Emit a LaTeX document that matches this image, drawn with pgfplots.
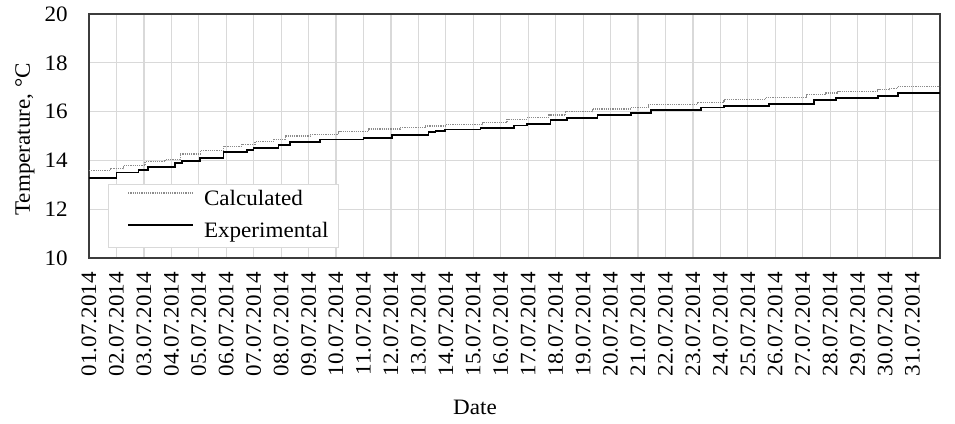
\documentclass[border=0pt]{standalone}
\usepackage{fontspec}
\setmainfont{Liberation Serif}[FakeStretch=1.05]
\usepackage{pgfplots}
\pgfplotsset{compat=1.18}
\definecolor{gridgray}{RGB}{217,217,217}
\definecolor{calcgray}{RGB}{140,140,140}
\definecolor{axisdark}{RGB}{60,60,60}
\begin{document}
\begin{tikzpicture}[x=1pt,y=1pt]
\useasboundingbox (0,0) rectangle (955,423);
\begin{axis}[
  at={(89pt,165pt)}, anchor=south west,
  scale only axis, width=851pt, height=244pt,
  xmin=0, xmax=31, ymin=10, ymax=20,
  xtick={0,...,30},
  xticklabels={01.07.2014,02.07.2014,03.07.2014,04.07.2014,05.07.2014,06.07.2014,07.07.2014,08.07.2014,09.07.2014,10.07.2014,11.07.2014,12.07.2014,13.07.2014,14.07.2014,15.07.2014,16.07.2014,17.07.2014,18.07.2014,19.07.2014,20.07.2014,21.07.2014,22.07.2014,23.07.2014,24.07.2014,25.07.2014,26.07.2014,27.07.2014,28.07.2014,29.07.2014,30.07.2014,31.07.2014},
  ytick={10,12,...,20},
  /pgf/number format/assume math mode=true,
  grid=major, major grid style={draw=gridgray, line width=1.2pt},
  axis line style={draw=axisdark, line width=1.8pt},
  major tick length=0pt, tick style={draw=none},
  font=\fontsize{22}{26}\selectfont,
  ticklabel style={font=\fontsize{22}{26}\selectfont},
  xticklabel style={yshift=-14pt, rotate=90, anchor=east, inner sep=0pt},
  yticklabel style={anchor=east, inner sep=0pt, xshift=-21pt},
  xlabel={Date},
  xlabel style={at={(axis description cs:0.4536,-0.6107)}, anchor=center},
  ylabel={Temperature, °C},
  ylabel style={at={(axis description cs:-0.0752,0.486)}, anchor=center},
  legend cell align=left,
  legend image code/.code={\path (0pt,0pt); \draw[#1] (9pt,7pt) -- (74pt,7pt);},
  legend style={at={(axis description cs:0.022,0.041)}, anchor=south west,
    draw=gridgray, line width=1pt, fill=white,
    inner xsep=10pt, inner ysep=5pt, row sep=11pt,
    font=\fontsize{22}{26}\selectfont,
    nodes={inner sep=0pt, text height=16pt, text depth=5pt},
    /tikz/every odd column/.append style={column sep=10pt}},
]
\addplot[const plot, draw=calcgray, line width=1.2pt, densely dotted] coordinates {
(0,13.58) (0.77,13.66) (1.25,13.78) (2.04,13.95) (2.77,14.04) (3.32,14.26)
(4.05,14.40) (4.90,14.58) (5.57,14.66) (6.05,14.77) (6.72,14.86) (7.15,15.00)
(8.06,15.07) (9.09,15.18) (10.19,15.29) (11.34,15.35) (12.25,15.41) (12.98,15.46)
(14.32,15.54) (15.23,15.69) (15.96,15.76) (16.75,15.86) (17.36,15.99) (18.33,16.11)
(19.73,16.17) (20.38,16.29) (22.16,16.38) (23.13,16.48) (24.65,16.59) (26.15,16.71)
(26.84,16.76) (27.27,16.82) (28.73,16.89) (29.15,16.95) (29.46,17.04) (31,17.04)
};
\addlegendentry{Calculated}
\addplot[const plot, draw=black, line width=1.8pt] coordinates {
(0,13.29) (1.00,13.50) (1.80,13.61) (2.16,13.73) (3.14,13.88) (3.38,13.99)
(4.05,14.11) (4.90,14.33) (5.75,14.43) (5.99,14.51) (6.90,14.62) (7.33,14.75)
(8.42,14.86) (10.00,14.93) (11.04,15.04) (12.37,15.15) (12.62,15.22) (12.98,15.27)
(14.26,15.34) (15.47,15.43) (15.96,15.49) (16.81,15.66) (17.42,15.75) (18.52,15.86)
(19.73,15.93) (20.46,16.07) (22.28,16.17) (23.13,16.23) (24.77,16.32) (26.40,16.48)
(27.21,16.57) (28.73,16.64) (29.46,16.75) (31,16.75)
};
\addlegendentry{Experimental}
\end{axis}
\end{tikzpicture}
\end{document}
